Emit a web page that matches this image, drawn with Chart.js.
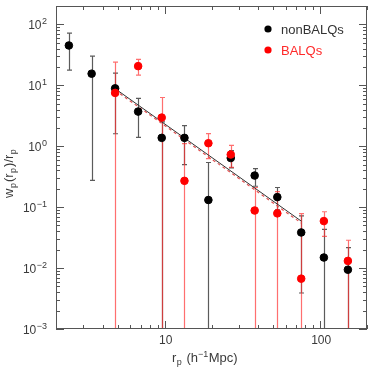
<!DOCTYPE html>
<html><head><meta charset="utf-8">
<script src="https://cdn.jsdelivr.net/npm/chart.js@4.4.1/dist/chart.umd.min.js"></script>
<style>html,body{margin:0;padding:0;background:#fff;}canvas{display:block;}</style>
</head><body>
<canvas id="c" width="374" height="374"></canvas>
<script>
// ---- data ----
const rp        = [2.42, 3.39, 4.80, 6.75, 9.57, 13.4, 19.1, 26.6, 37.9, 53.0, 75.5, 105.6, 150.7];
const nonBALQ   = [45, 15.5, 8.9, 3.7, 1.37, 1.37, 0.131, 0.64, 0.33, 0.146, 0.0384, 0.0149, 0.0094];
const nonBALQHi = [72, 30, 15.8, 6.1, 2.5, 2.18, 0.54, 0.85, 0.43, 0.21, 0.072, 0.043, 0.0217];
const nonBALQLo = [17.7, 0.275, 1.6, 1.40, null, 0.5, null, 0.44, 0.22, 0.09, 0.0039, null, null];
const BALQ      = [null, null, 7.5, 20.6, 2.95, 0.27, 1.12, 0.73, 0.088, 0.079, 0.0067, 0.059, 0.0131];
const BALQHi    = [null, null, 24, 26.6, 6.3, 1.1, 1.61, 1.03, 0.21, 0.18, 0.078, 0.084, 0.0286];
const BALQLo    = [null, null, null, 14.7, null, null, 0.625, 0.45, null, null, null, 0.033, null];
const fitR          = [4.8, 75.5];
const fitNonBALQ    = [8.8, 0.059];
const fitBALQ       = [8.3, 0.055];
const xTickValues = [10, 100];
const xTickLabels = ['10', '100'];
const yTickValues = [1e-3, 1e-2, 1e-1, 1, 10, 100];
const yTickExps   = ['\u22123', '\u22122', '\u22121', '0', '1', '2'];
const seriesNames = ['nonBALQs', 'BALQs'];

const FONT = '"Liberation Sans", Arial, sans-serif';
const TXT = '#3a3a3a';

function pts(xs, ys){ const o=[]; xs.forEach((v,i)=>{ if(ys[i]!=null) o.push({x:v,y:ys[i]}); }); return o; }

const deco = {
  id: 'deco',
  beforeDatasetsDraw(chart){
    const {ctx, chartArea:a, scales:{x, y}} = chart;
    function bars(vals, hi, lo, color){
      ctx.save();
      ctx.beginPath(); ctx.rect(a.left, a.top, a.right-a.left, a.bottom-a.top); ctx.clip();
      ctx.strokeStyle = color; ctx.lineWidth = 1.2;
      vals.forEach((v,i)=>{
        if(v==null) return;
        const px = Math.round(x.getPixelForValue(rp[i])) + 0.5;
        const top = y.getPixelForValue(hi[i]);
        const bot = lo[i]==null ? a.bottom+3 : y.getPixelForValue(lo[i]);
        ctx.beginPath();
        ctx.moveTo(px, top); ctx.lineTo(px, bot);
        ctx.moveTo(px-2.5, top); ctx.lineTo(px+2.5, top);
        if(lo[i]!=null){ ctx.moveTo(px-2.5, bot); ctx.lineTo(px+2.5, bot); }
        ctx.stroke();
      });
      ctx.restore();
    }
    bars(nonBALQ, nonBALQHi, nonBALQLo, 'rgba(50,50,50,0.8)');
    bars(BALQ, BALQHi, BALQLo, 'rgba(255,50,50,0.7)');
  },
  afterDraw(chart){
    const {ctx, chartArea:a, scales:{x, y}} = chart;
    ctx.save();
    // frame
    ctx.strokeStyle = '#555'; ctx.lineWidth = 1;
    ctx.strokeRect(a.left+0.5, a.top+0.5, a.right-a.left-1, a.bottom-a.top-1);
    // ticks
    ctx.beginPath();
    for(let d=0; d<=2; d++){
      for(let k=1;k<=9;k++){
        const v = k*Math.pow(10,d);
        if(v<2 || v>200) continue;
        const px = Math.round(x.getPixelForValue(v))+0.5;
        const L = k===1 ? 8 : 4;
        ctx.moveTo(px, a.bottom); ctx.lineTo(px, a.bottom-L);
        ctx.moveTo(px, a.top); ctx.lineTo(px, a.top+L);
      }
    }
    for(let d=-3; d<=2; d++){
      for(let k=1;k<=9;k++){
        const v = k*Math.pow(10,d);
        if(v<1e-3 || v>200) continue;
        const py = Math.round(y.getPixelForValue(v))+0.5;
        const L = k===1 ? 8 : 4;
        ctx.moveTo(a.left, py); ctx.lineTo(a.left+L, py);
        ctx.moveTo(a.right, py); ctx.lineTo(a.right-L, py);
      }
    }
    ctx.stroke();
    // y tick labels
    ctx.fillStyle = TXT;
    yTickValues.forEach((v,i)=>{
      const ty = y.getPixelForValue(v);
      ctx.font = '9px ' + FONT;
      const sw = ctx.measureText(yTickExps[i]).width;
      const right = a.left - 9;
      ctx.textAlign = 'left';
      ctx.fillText(yTickExps[i], right - sw, ty);
      ctx.font = '12px ' + FONT;
      ctx.textAlign = 'right';
      ctx.fillText('10', right - sw - 0.5, ty + 4.5);
    });
    // x tick labels
    ctx.font = '12px ' + FONT; ctx.textAlign = 'center';
    xTickValues.forEach((v,i)=>{
      ctx.fillText(xTickLabels[i], x.getPixelForValue(v)+1, a.bottom + 15);
    });
    // x title
    function run(parts, x0, y0){
      let cx = x0;
      parts.forEach(p=>{
        ctx.font = p[1] + 'px ' + FONT;
        ctx.textAlign = 'left';
        ctx.fillText(p[0], cx, y0 + p[2]);
        cx += ctx.measureText(p[0]).width + (p[3]||0);
      });
    }
    run([['r',13,0,0.5],['p',9,3,1],[' (h',13,0],['\u22121',9,-5,0.5],['Mpc)',13,0]], 172, a.bottom + 33);
    // y title
    ctx.save();
    ctx.translate(13, 198);
    ctx.rotate(-Math.PI/2);
    run([['w',13,0,0.5],['p',9,3,1],['(r',13,0,0.5],['p',9,3,1],[')/r',13,0,0.5],['p',9,3,0]], 0, 0);
    ctx.restore();
    // legend
    const leg = [['#000', '#333', 29], ['#ff0000', '#ff2a2a', 50]];
    leg.forEach((l,i)=>{
      ctx.fillStyle = l[0];
      ctx.beginPath(); ctx.arc(268, l[2], 3.6, 0, Math.PI*2); ctx.fill();
      ctx.fillStyle = l[1];
      ctx.font = '13px ' + FONT; ctx.textAlign = 'left';
      ctx.fillText(seriesNames[i], 281, l[2] + 4.5);
    });
    ctx.restore();
  }
};

new Chart(document.getElementById('c'), {
  type: 'scatter',
  data: {
    datasets: [
      { label: seriesNames[1], data: pts(rp, BALQ), backgroundColor: '#ff0000', borderColor: '#ff0000', pointRadius: 3.8, pointHoverRadius: 3.8, showLine: false },
      { label: seriesNames[0], data: pts(rp, nonBALQ), backgroundColor: '#000', borderColor: '#000', pointRadius: 3.8, pointHoverRadius: 3.8, showLine: false },
      { label: 'fit nonBALQs', data: pts(fitR, fitNonBALQ), showLine: true, borderColor: '#333', borderWidth: 1, pointRadius: 0, fill: false },
      { label: 'fit BALQs', data: pts(fitR, fitBALQ), showLine: true, borderColor: '#e05050', borderWidth: 1.2, borderDash: [3,3], pointRadius: 0, fill: false }
    ]
  },
  options: {
    responsive: false,
    animation: false,
    devicePixelRatio: 1,
    layout: { padding: { left: 56, top: 6, right: 7, bottom: 45 } },
    plugins: { legend: { display: false }, tooltip: { enabled: false } },
    scales: {
      x: { type: 'logarithmic', min: 2, max: 200, display: false },
      y: { type: 'logarithmic', min: 1e-3, max: 200, display: false }
    }
  },
  plugins: [deco]
});
</script>
</body></html>
